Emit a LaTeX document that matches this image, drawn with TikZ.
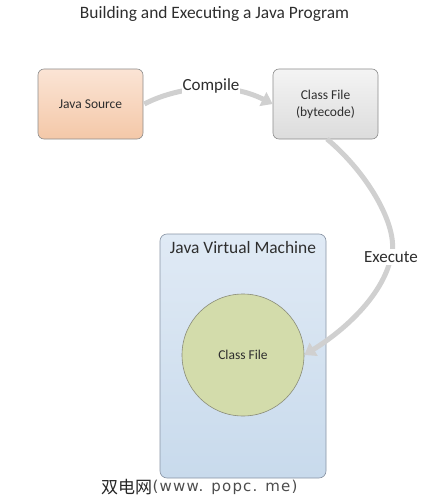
\documentclass[tikz,border=0pt]{standalone}
\usepackage{fontspec}
\setmainfont{Carlito}
\newfontfamily\cjk{Noto Sans CJK SC}
\newfontfamily\wmlatin[LetterSpace=8]{DejaVu Sans}
\usetikzlibrary{arrows.meta}
\definecolor{arrowgray}{HTML}{D0D0D0}
\definecolor{txt}{HTML}{2E2E2E}
\definecolor{srctop}{HTML}{FBE4D5}
\definecolor{srcbot}{HTML}{F4C8A8}
\definecolor{clstop}{HTML}{F4F4F4}
\definecolor{clsbot}{HTML}{DCDCDC}
\definecolor{jvmtop}{HTML}{E0EAF5}
\definecolor{jvmbot}{HTML}{C8DAEC}
\definecolor{jvmline}{HTML}{8893A3}
\definecolor{circfill}{HTML}{D3DCAB}
\definecolor{circline}{HTML}{8A8C78}
\definecolor{boxline}{HTML}{8C8C8C}
\tikzset{
  procbox/.style={draw=boxline, rounded corners=6pt, minimum width=105pt, minimum height=70pt, align=center, font=\fontsize{13.5}{17}\selectfont, text=txt, line width=0.6pt},
  flow/.style={draw=arrowgray, line width=5pt, -{Triangle[length=11pt,width=15pt]}},
  flowlabel/.style={fill=white, inner sep=2pt, font=\fontsize{17}{20}\selectfont, text=txt}
}
\begin{document}
\begin{tikzpicture}[x=1pt,y=-1pt]
\useasboundingbox (0,0) rectangle (445,500);
\node[font=\fontsize{17.4}{20}\selectfont, text=txt] (title) at (214.5,14) {Building and Executing a Java Program};
\node[procbox, top color=srctop, bottom color=srcbot] (src) at (90.5,104) {Java Source};
\node[procbox, top color=clstop, bottom color=clsbot] (cls) at (325.5,104) {Class File\\(bytecode)};
\node[draw=jvmline, rounded corners=7pt, minimum width=166pt, minimum height=244pt, top color=jvmtop, bottom color=jvmbot, line width=0.6pt] (jvm) at (243,356) {};
\node[font=\fontsize{17.4}{20}\selectfont, text=txt, anchor=north] (jvmt) at ([yshift=-4pt]jvm.north) {Java Virtual Machine};
\node[circle, draw=circline, fill=circfill, minimum size=122pt, font=\fontsize{13.5}{17}\selectfont, text=txt, line width=0.6pt] (circ) at (243,355) {Class File};
\draw[flow] ([xshift=1pt]src.east) .. controls (175,88) and (225,80) .. (cls.west);
\node[flowlabel, inner sep=1pt] (lc) at (211,86) {Compile};
\coordinate (e1) at (327,139);
\draw[flow] (e1) .. controls (370,175) and (400,230) .. (391,257) .. controls (383,295) and (345,330) .. (circ.east) ;
\node[flowlabel] (le) at (391,257) {Execute};
\node[font=\cjk\fontsize{17}{20}\selectfont, anchor=west, text=black!85, inner sep=0pt] (wm) at (101,487) {双电网};
\node[font=\wmlatin\fontsize{15}{18}\selectfont, anchor=west, text=black!70, inner sep=0pt] (wm2) at (wm.east) {(www. popc. me)};
\end{tikzpicture}
\end{document}
